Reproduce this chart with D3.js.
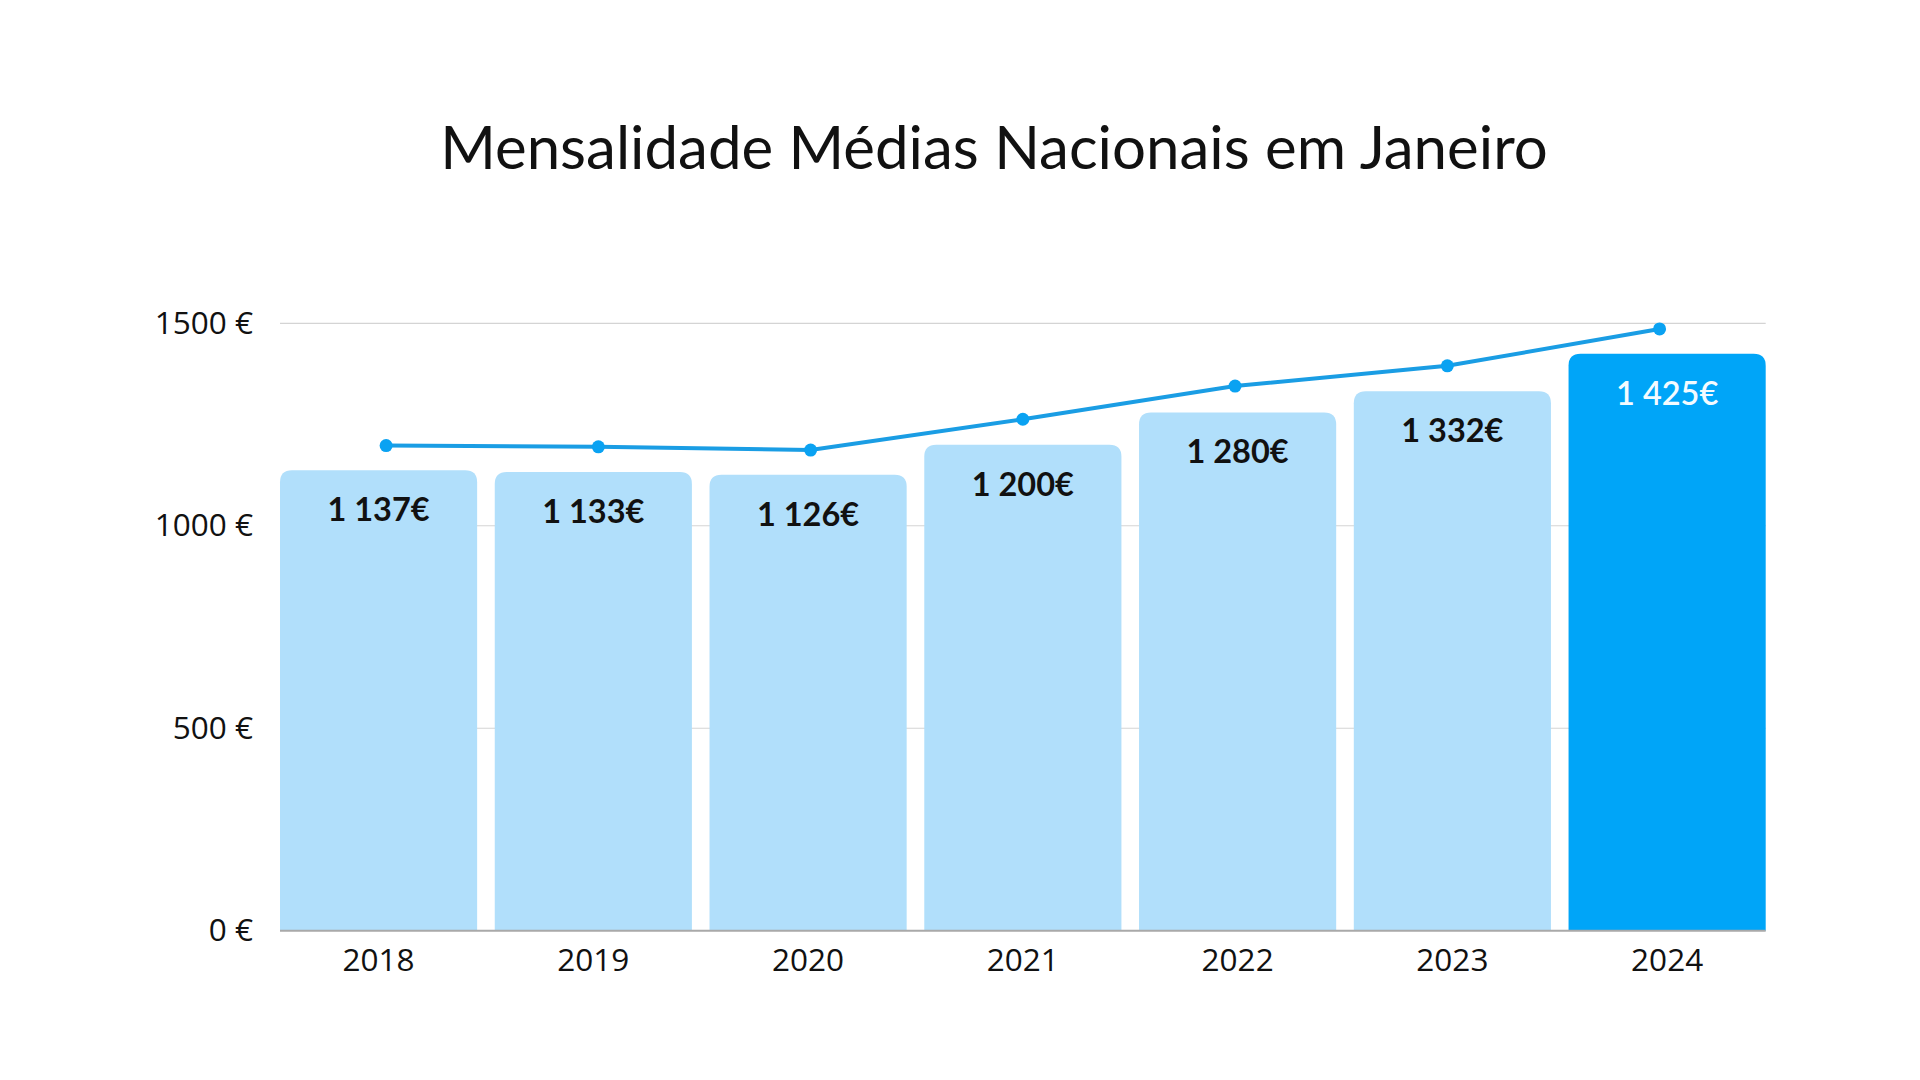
<!DOCTYPE html>
<html>
<head>
<meta charset="utf-8">
<script src="https://cdn.jsdelivr.net/npm/d3@7"></script>
<style>
  html, body { margin: 0; padding: 0; background: #fff; }
  svg { display: block; }
</style>
</head>
<body>
<svg id="chart" width="1920" height="1080"></svg>
<script>
const years = ["2018", "2019", "2020", "2021", "2022", "2023", "2024"];
const barValues = [1137, 1133, 1126, 1200, 1280, 1332, 1425];
const barLabels = ["1 137€", "1 133€", "1 126€", "1 200€", "1 280€", "1 332€", "1 425€"];
const lineValues = [1198, 1195, 1187, 1263, 1345, 1395, 1486];
const yTicks = [0, 500, 1000, 1500];
const yTickLabels = ["0 €", "500 €", "1000 €", "1500 €"];
const title = "Mensalidade Médias Nacionais em Janeiro";

const svg = d3.select("#chart");
svg.append("rect").attr("width", 1920).attr("height", 1080).attr("fill", "#fff");

const plot = { left: 280, right: 1765.7, top: 323.3, bottom: 930.7 };

const y = d3.scaleLinear().domain([0, 1500]).range([plot.bottom, plot.top]);
const xBand = d3.scaleBand().domain(years).range([plot.left, plot.right])
  .paddingInner(0.082).paddingOuter(0);
const xPoint = d3.scalePoint().domain(years).range([plot.left, plot.right]).padding(0.5);

// Title
svg.append("text")
  .attr("x", 994).attr("y", 169)
  .attr("text-anchor", "middle")
  .attr("font-family", "Lato, sans-serif")
  .attr("font-size", 60)
  .attr("fill", "#111")
  .text(title);

// Gridlines
svg.append("g").selectAll("line")
  .data(yTicks.filter(d => d !== 0))
  .join("line")
  .attr("x1", plot.left).attr("x2", plot.right)
  .attr("y1", d => y(d)).attr("y2", d => y(d))
  .attr("stroke", "#d4d4d4").attr("stroke-width", 1.2);

// Y axis labels
const yAxis = d3.axisLeft(y).tickValues(yTicks)
  .tickFormat((d, i) => yTickLabels[i]).tickSize(0).tickPadding(27);
const yg = svg.append("g").attr("transform", `translate(${plot.left},0)`).call(yAxis);
yg.select(".domain").remove();
yg.selectAll("text")
  .attr("font-family", "'Open Sans', sans-serif")
  .attr("font-size", 31.5)
  .attr("fill", "#111");

// Bars with rounded top corners
const r = 12;
function barPath(x0, w, yTop, yBot) {
  return `M${x0},${yBot} L${x0},${yTop + r} Q${x0},${yTop} ${x0 + r},${yTop} ` +
    `L${x0 + w - r},${yTop} Q${x0 + w},${yTop} ${x0 + w},${yTop + r} L${x0 + w},${yBot} Z`;
}
svg.append("g").selectAll("path")
  .data(years)
  .join("path")
  .attr("d", (d, i) => barPath(xBand(d), xBand.bandwidth(), y(barValues[i]), y(0)))
  .attr("fill", (d, i) => i === years.length - 1 ? "#00a5f8" : "#b1dffb");

// Baseline
svg.append("line")
  .attr("x1", plot.left).attr("x2", plot.right)
  .attr("y1", y(0)).attr("y2", y(0))
  .attr("stroke", "#a9a9a9").attr("stroke-width", 2);

// Bar labels
svg.append("g").selectAll("text")
  .data(years)
  .join("text")
  .attr("x", d => xBand(d) + xBand.bandwidth() / 2)
  .attr("y", (d, i) => y(barValues[i]) + 51)
  .attr("text-anchor", "middle")
  .attr("font-family", "Lato, sans-serif")
  .attr("font-weight", (d, i) => i === years.length - 1 ? 600 : 700)
  .attr("font-size", 32.5)
  .attr("fill", (d, i) => i === years.length - 1 ? "#f4fbff" : "#111")
  .text((d, i) => barLabels[i]);

// X axis labels
const xAxis = d3.axisBottom(xBand).tickSize(0).tickPadding(18);
const xg = svg.append("g").attr("transform", `translate(0,${plot.bottom})`).call(xAxis);
xg.select(".domain").remove();
xg.selectAll("text")
  .attr("font-family", "'Open Sans', sans-serif")
  .attr("font-size", 31.5)
  .attr("fill", "#111");

// Line
const line = d3.line().x((d, i) => xPoint(years[i])).y(d => y(d));
svg.append("path")
  .datum(lineValues)
  .attr("d", line)
  .attr("fill", "none")
  .attr("stroke", "#1a9de4")
  .attr("stroke-width", 4);
svg.append("g").selectAll("circle")
  .data(lineValues)
  .join("circle")
  .attr("cx", (d, i) => xPoint(years[i]))
  .attr("cy", d => y(d))
  .attr("r", 6.5)
  .attr("fill", "#0aa2f2");
</script>
</body>
</html>
